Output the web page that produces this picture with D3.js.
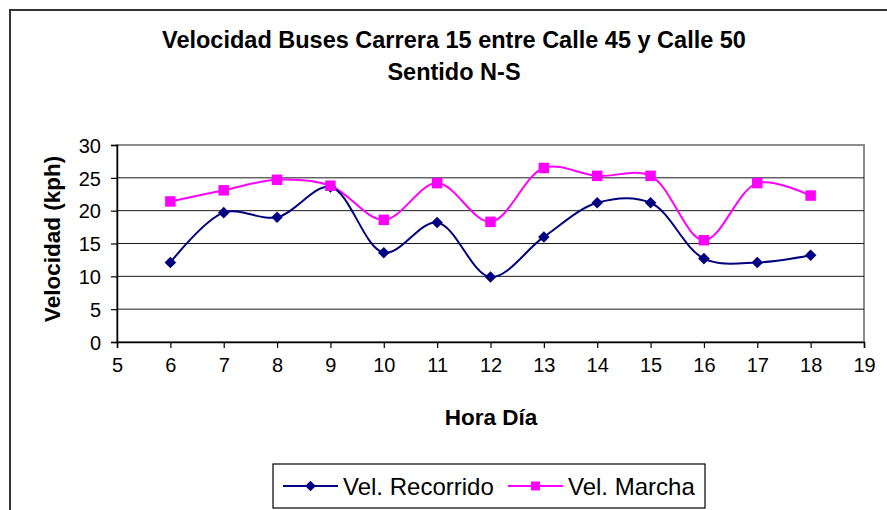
<!DOCTYPE html>
<html>
<head>
<meta charset="utf-8">
<script src="https://cdn.jsdelivr.net/npm/d3@7"></script>
<style>
  body { margin: 0; background: #fff; }
  svg { display: block; font-family: "Liberation Sans", Arial, sans-serif; }
</style>
</head>
<body>
<svg id="chart" width="887" height="510"></svg>
<script>
// data
var horas = [6, 7, 8, 9, 10, 11, 12, 13, 14, 15, 16, 17, 18]
var velRecorrido = [12.1, 19.7, 19.0, 23.6, 13.6, 18.2, 9.9, 16.0, 21.2, 21.2, 12.7, 12.1, 13.2]
var velMarcha = [21.4, 23.1, 24.7, 23.8, 18.6, 24.2, 18.3, 26.5, 25.3, 25.3, 15.5, 24.2, 22.3]
var xTicks = [5, 6, 7, 8, 9, 10, 11, 12, 13, 14, 15, 16, 17, 18, 19]
var yTicks = [0, 5, 10, 15, 20, 25, 30]
var seriesNames = ["Vel. Recorrido", "Vel. Marcha"]

var svg = d3.select("#chart")

// outer chart border (runs off the right and bottom of the picture)
svg.append("rect")
  .attr("x", 10).attr("y", 10)
  .attr("width", 900).attr("height", 520)
  .attr("fill", "#fff")
  .attr("stroke", "#333").attr("stroke-width", 2)

var plot = { left: 117, top: 145, right: 864, bottom: 342 }

var x = d3.scaleLinear().domain([5, 19]).range([plot.left, plot.right])
var y = d3.scaleLinear().domain([0, 30]).range([plot.bottom, plot.top])

// plot area border
svg.append("rect")
  .attr("x", plot.left).attr("y", plot.top)
  .attr("width", plot.right - plot.left).attr("height", plot.bottom - plot.top)
  .attr("fill", "none")
  .attr("stroke", "#8c8c8c").attr("stroke-width", 2)

// horizontal gridlines
svg.append("g")
  .selectAll("line")
  .data(yTicks.filter(function (d) { return d > 0 && d < 30 }))
  .enter().append("line")
  .attr("x1", plot.left).attr("x2", plot.right)
  .attr("y1", function (d) { return y(d) }).attr("y2", function (d) { return y(d) })
  .attr("stroke", "#1a1a1a").attr("stroke-width", 1)

// axes
var yAxis = svg.append("g")
  .attr("transform", "translate(" + plot.left + ",0)")
  .call(d3.axisLeft(y).tickValues(yTicks).tickSize(6).tickPadding(10))
var xAxis = svg.append("g")
  .attr("transform", "translate(0," + plot.bottom + ")")
  .call(d3.axisBottom(x).tickValues(xTicks).tickSize(6).tickPadding(10))

;[xAxis, yAxis].forEach(function (ax) {
  ax.select(".domain").attr("stroke", "#000").attr("stroke-width", 1.5)
  ax.selectAll(".tick line").attr("stroke", "#000").attr("stroke-width", 1.2)
  ax.selectAll("text")
    .attr("fill", "#000")
    .style("font-family", "'Liberation Sans', Arial, sans-serif")
    .style("font-size", "20px")
})
yAxis.selectAll("text").attr("dy", "0.36em")

// titles
var title = svg.append("text")
  .attr("text-anchor", "middle")
  .attr("font-weight", "bold").attr("font-size", "23.5px")
title.append("tspan").attr("x", 454).attr("y", 48)
  .text("Velocidad Buses Carrera 15 entre Calle 45 y Calle 50")
title.append("tspan").attr("x", 454).attr("y", 80).text("Sentido N-S")

svg.append("text")
  .attr("x", 491).attr("y", 425)
  .attr("text-anchor", "middle")
  .attr("font-weight", "bold").attr("font-size", "22.5px")
  .text("Hora Día")

svg.append("text")
  .attr("transform", "translate(60,239) rotate(-90)")
  .attr("text-anchor", "middle")
  .attr("font-weight", "bold").attr("font-size", "22.5px")
  .text("Velocidad (kph)")

// series
var line = d3.line()
  .x(function (d) { return x(d[0]) })
  .y(function (d) { return y(d[1]) })
  .curve(d3.curveCatmullRom.alpha(0.5))

var recorrido = horas.map(function (h, i) { return [h, velRecorrido[i]] })
var marcha = horas.map(function (h, i) { return [h, velMarcha[i]] })

var navy = "#000080", magenta = "#ff00ff"
var diamond = d3.symbol().type(d3.symbolDiamond2).size(85)
var square = d3.symbol().type(d3.symbolSquare).size(110)

svg.append("path").datum(marcha)
  .attr("d", line).attr("fill", "none")
  .attr("stroke", magenta).attr("stroke-width", 2)
svg.append("path").datum(recorrido)
  .attr("d", line).attr("fill", "none")
  .attr("stroke", navy).attr("stroke-width", 2)

svg.append("g").selectAll("path")
  .data(recorrido)
  .enter().append("path")
  .attr("d", diamond)
  .attr("transform", function (d) { return "translate(" + x(d[0]) + "," + y(d[1]) + ")" })
  .attr("fill", navy)

svg.append("g").selectAll("path")
  .data(marcha)
  .enter().append("path")
  .attr("d", square)
  .attr("transform", function (d) { return "translate(" + x(d[0]) + "," + y(d[1]) + ")" })
  .attr("fill", magenta)

// legend
var legend = svg.append("g")
legend.append("rect")
  .attr("x", 273).attr("y", 464)
  .attr("width", 432).attr("height", 44)
  .attr("fill", "#fff").attr("stroke", "#000").attr("stroke-width", 1.2)

var legendItems = [
  { name: seriesNames[0], color: navy, sym: d3.symbol().type(d3.symbolDiamond2).size(70), x0: 283 },
  { name: seriesNames[1], color: magenta, sym: d3.symbol().type(d3.symbolSquare).size(80), x0: 508 }
]
legendItems.forEach(function (it) {
  legend.append("line")
    .attr("x1", it.x0).attr("x2", it.x0 + 55)
    .attr("y1", 486).attr("y2", 486)
    .attr("stroke", it.color).attr("stroke-width", 2)
  legend.append("path")
    .attr("d", it.sym)
    .attr("transform", "translate(" + (it.x0 + 27.5) + ",486)")
    .attr("fill", it.color)
  legend.append("text")
    .attr("x", it.x0 + 60).attr("y", 486)
    .attr("dy", "0.36em")
    .attr("font-size", "24px")
    .text(it.name)
})
</script>
</body>
</html>
